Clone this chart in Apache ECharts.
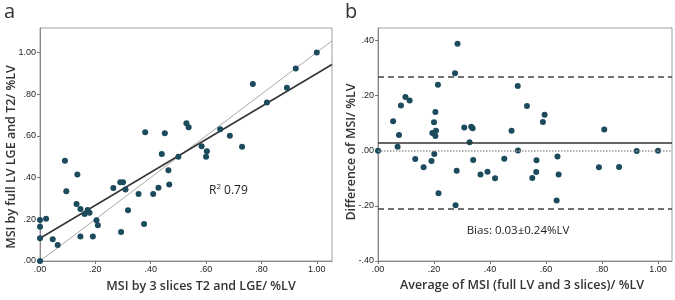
<!DOCTYPE html>
<html>
<head>
<meta charset="utf-8">
<script src="https://cdn.jsdelivr.net/npm/echarts@6/dist/echarts.min.js"></script>
<style>
  html, body { margin: 0; padding: 0; background: #fff; }
  #chart { width: 675px; height: 300px; }
</style>
</head>
<body>
<div id="chart"></div>
<script>
// panel a: 3 slices (x) vs full LV (y)
const corrPoints = [
  [0, 0.196], [0, 0.164], [0.022, 0.203], [0, 0.109], [0, 0],
  [0.046, 0.104], [0.064, 0.077], [0.090, 0.481], [0.095, 0.334],
  [0.135, 0.415], [0.132, 0.273], [0.146, 0.249], [0.146, 0.117],
  [0.161, 0.225], [0.172, 0.244], [0.179, 0.231], [0.191, 0.117],
  [0.204, 0.195], [0.209, 0.171], [0.265, 0.350], [0.290, 0.378],
  [0.300, 0.378], [0.309, 0.343], [0.293, 0.139], [0.318, 0.243],
  [0.356, 0.321], [0.376, 0.177], [0.409, 0.321], [0.428, 0.351],
  [0.440, 0.513], [0.464, 0.435], [0.467, 0.367], [0.500, 0.500],
  [0.584, 0.550], [0.603, 0.526], [0.600, 0.500], [0.730, 0.548],
  [0.380, 0.617], [0.451, 0.613], [0.529, 0.660], [0.537, 0.641],
  [0.651, 0.632], [0.686, 0.600], [0.769, 0.848], [0.820, 0.760],
  [0.892, 0.830], [0.924, 0.923], [1.000, 1.000]
];
const fitLine = [[0, 0.109], [1.055, 0.942]];
const identityLine = [[0, 0], [1.055, 1.055]];
const rSquared = '0.79';

// panel b: Bland-Altman
const baPoints = [
  [0.284, 0.388], [0.275, 0.281], [0.214, 0.239], [0.499, 0.235],
  [0.098, 0.195], [0.113, 0.182], [0.082, 0.164], [0.054, 0.107],
  [0.205, 0.140], [0.200, 0.103], [0.194, 0.064], [0.207, 0.072],
  [0.205, 0.053], [0.075, 0.057], [0.070, 0.014], [0.308, 0.084],
  [0.333, 0.087], [0.338, 0.081], [0.327, 0.031], [0.477, 0.072],
  [0.500, 0.001], [0, 0], [0.133, -0.030], [0.163, -0.060],
  [0.191, -0.037], [0.201, -0.012], [0.216, -0.154], [0.281, -0.073],
  [0.277, -0.198], [0.340, -0.034], [0.366, -0.086], [0.391, -0.076],
  [0.418, -0.100], [0.451, -0.029],
  [0.532, 0.162], [0.595, 0.130], [0.589, 0.104], [0.808, 0.077],
  [0.566, -0.035], [0.641, -0.021], [0.565, -0.077], [0.551, -0.099],
  [0.645, -0.086], [0.789, -0.060], [0.861, -0.059], [0.638, -0.181],
  [0.924, -0.001], [1.000, 0]
];
const bias = 0.03;
const limits = [0.27, -0.21];
const biasText = 'Bias: 0.03\u00b10.24%LV';

const xTicks = [0, 0.2, 0.4, 0.6, 0.8, 1.0];
const yTicksA = [0, 0.2, 0.4, 0.6, 0.8, 1.0];
const yTicksB = [-0.4, -0.2, 0, 0.2, 0.4];

const dotColor = '#1b4b5c';
const titleFont = '600 12.5px "Open Sans"';
const fmt = v => v.toFixed(2).replace('0.', '.');

function valueAxis(min, max, ticks, extra) {
  return Object.assign({
    type: 'value', min: min, max: max,
    axisLine: { show: true, onZero: false, lineStyle: { color: '#888', width: 1 } },
    axisTick: { show: true, length: 3, customValues: ticks, lineStyle: { color: '#777' } },
    axisLabel: {
      customValues: ticks, formatter: fmt, fontSize: 9, color: '#222',
      fontFamily: 'Liberation Sans', margin: 4
    },
    splitLine: { show: false }
  }, extra || {});
}

const chart = echarts.init(document.getElementById('chart'));
chart.setOption({
  animation: false,
  backgroundColor: '#fff',
  grid: [
    { left: 40, top: 28, width: 292, height: 233, show: true, borderColor: '#a0a0a0', borderWidth: 1 },
    { left: 378, top: 28, width: 294, height: 233, show: true, borderColor: '#a0a0a0', borderWidth: 1 }
  ],
  xAxis: [
    valueAxis(0, 1.055, xTicks, { gridIndex: 0 }),
    valueAxis(0, 1.05, xTicks, { gridIndex: 1 })
  ],
  yAxis: [
    valueAxis(0, 1.117, yTicksA, { gridIndex: 0 }),
    valueAxis(-0.4, 0.445, yTicksB, { gridIndex: 1 })
  ],
  series: [
    {
      type: 'line', xAxisIndex: 0, yAxisIndex: 0, data: identityLine,
      symbol: 'none', lineStyle: { color: '#a8a8a8', width: 1 }, z: 1
    },
    {
      type: 'line', xAxisIndex: 0, yAxisIndex: 0, data: fitLine,
      symbol: 'none', lineStyle: { color: '#333', width: 1.5 }, z: 2
    },
    {
      type: 'scatter', xAxisIndex: 0, yAxisIndex: 0, data: corrPoints,
      symbolSize: 6, itemStyle: { color: dotColor, opacity: 1 }, z: 3
    },
    {
      type: 'scatter', xAxisIndex: 1, yAxisIndex: 1, data: baPoints,
      symbolSize: 6, itemStyle: { color: dotColor, opacity: 1 }, z: 3,
      markLine: {
        silent: true, symbol: 'none', label: { show: false },
        data: [
          { yAxis: 0, lineStyle: { color: '#999', width: 1.5, type: 'dotted' } },
          { yAxis: bias, lineStyle: { color: '#333', width: 1.5, type: 'solid' } },
          { yAxis: limits[0], lineStyle: { color: '#444', width: 1.5, type: [6, 4] } },
          { yAxis: limits[1], lineStyle: { color: '#444', width: 1.5, type: [6, 4] } }
        ]
      }
    }
  ],
  graphic: [
    { type: 'text', left: 4, top: 2, style: { text: 'a', font: '20px "Open Sans"', fill: '#333' } },
    { type: 'text', left: 345, top: 2, style: { text: 'b', font: '20px "Open Sans"', fill: '#333' } },
    {
      type: 'text', x: 11, y: 157, rotation: Math.PI / 2,
      style: { text: 'MSI by full LV LGE and T2/ %LV', font: titleFont, fill: '#333', align: 'center', verticalAlign: 'middle' }
    },
    {
      type: 'text', x: 201, y: 286,
      style: { text: 'MSI by 3 slices T2 and LGE/ %LV', font: titleFont, fill: '#333', align: 'center', verticalAlign: 'middle' }
    },
    {
      type: 'text', x: 351, y: 152, rotation: Math.PI / 2,
      style: { text: 'Difference of MSI/ %LV', font: titleFont, fill: '#333', align: 'center', verticalAlign: 'middle' }
    },
    {
      type: 'text', x: 522, y: 285,
      style: { text: 'Average of MSI (full LV and 3 slices)/ %LV', font: titleFont, fill: '#333', align: 'center', verticalAlign: 'middle' }
    },
    {
      type: 'text', x: 209, y: 190,
      style: {
        text: '{r|R}{s|2}{r| ' + rSquared + '}', verticalAlign: 'middle',
        rich: {
          r: { font: '12px "Open Sans"', fill: '#222', verticalAlign: 'bottom' },
          s: { font: '8px "Open Sans"', fill: '#222', verticalAlign: 'top', padding: [0, 0, 6, 0] }
        }
      }
    },
    {
      type: 'text', x: 518, y: 231,
      style: { text: biasText, font: '11.5px "Open Sans"', fill: '#222', align: 'center', verticalAlign: 'middle' }
    }
  ]
});
</script>
</body>
</html>
